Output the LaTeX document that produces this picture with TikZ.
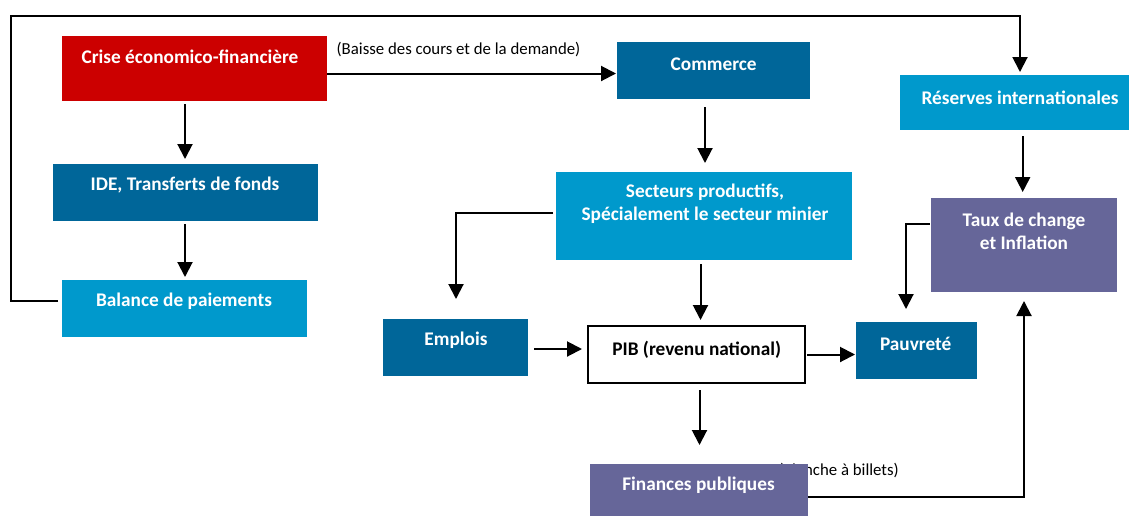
\documentclass[tikz,border=0pt]{standalone}
\usepackage{fontspec}
\setmainfont{Carlito}
\usetikzlibrary{arrows.meta,calc}
\definecolor{cred}{HTML}{CC0000}
\definecolor{cdark}{HTML}{006699}
\definecolor{clight}{HTML}{0099CC}
\definecolor{cpurp}{HTML}{666699}
\tikzset{
  box/.style={rectangle, draw=none, inner sep=0pt, outer sep=0pt},
  btext/.style={font=\fontsize{19.3}{23}\selectfont\bfseries, text=white, align=center, inner sep=0pt},
  lbl/.style={font=\fontsize{16.8}{19}\selectfont, inner sep=0pt},
  arr/.style={line width=2pt, -{Triangle[length=15pt,width=15pt]}, shorten <=3pt, shorten >=5pt},
  plain/.style={line width=2pt}
}
\begin{document}
\begin{tikzpicture}[x=1pt,y=-1pt]
\useasboundingbox (0,0) rectangle (1129,515);
% label partly hidden by the Finances box
\node[lbl, anchor=east] (planche) at (899,470.7) {(Planche à billets)};
% boxes
\node[box, fill=cred,   minimum width=265pt, minimum height=65pt] (crise) at (194.5,68.5) {};
\node[box, fill=cdark,  minimum width=265pt, minimum height=57pt] (ide)   at (185.5,192.5) {};
\node[box, fill=clight, minimum width=245pt, minimum height=57pt] (bal)   at (184.5,308.5) {};
\node[box, fill=cdark,  minimum width=193pt, minimum height=57pt] (com)   at (713.5,70.5) {};
\node[box, fill=clight, minimum width=240pt, minimum height=55pt] (res)   at (1020,102.5) {};
\node[box, fill=clight, minimum width=296pt, minimum height=88pt] (sec)   at (704,216) {};
\node[box, fill=cpurp,  minimum width=186pt, minimum height=94pt] (taux)  at (1024,245) {};
\node[box, fill=cdark,  minimum width=145pt, minimum height=57pt] (emp)   at (455.5,347.5) {};
\node[box, draw=black, line width=1.5pt, fill=white, minimum width=217pt, minimum height=57pt] (pib) at (696.5,354.5) {};
\node[box, fill=cdark,  minimum width=121pt, minimum height=57pt] (pau)   at (916.5,350.5) {};
\node[box, fill=cpurp,  minimum width=218pt, minimum height=66pt] (fin)   at (699,497) {};
% texts
\node[btext] (crise-t) at (190,57) {Crise économico-financière};
\node[btext] (ide-t) at (185,185) {IDE, Transferts de fonds};
\node[btext] (bal-t) at (184,301.5) {Balance de paiements};
\node[btext] (com-t) at (713.7,64) {Commerce};
\node[btext] (res-t) at (1020,97.7) {Réserves internationales};
\node[btext] (sec-t) at (705,204) {Secteurs productifs,\\Spécialement le secteur minier};
\node[btext] (taux-t) at (1024,231) {Taux de change\\et Inflation};
\node[btext] (emp-t) at (456,340.7) {Emplois};
\node[btext, text=black] (pib-t) at (696.7,350) {PIB (revenu national)};
\node[btext] (pau-t) at (915.7,344) {Pauvreté};
\node[btext] (fin-t) at (698.5,485.7) {Finances publiques};
\node[lbl] (baisse) at (458.5,50) {(Baisse des cours et de la demande)};
% connectors
\coordinate (topleft) at (11,16);
\draw[arr] (ide-t |- crise.south) -- (ide-t |- ide.north);
\draw[arr, shorten >=3pt] (ide-t |- ide.south) -- (ide-t |- bal.north);
\draw[arr, shorten <=4pt, shorten >=3pt] ([yshift=7.5pt]bal.west) -| (topleft) -| (res.north);
\draw[arr, shorten <=0pt, shorten >=1pt] ([yshift=-5pt]crise.east) -- ([yshift=-5pt]crise.east -| com.west);
\draw[arr, shorten <=8pt, shorten >=9pt] (sec-t |- com.south) -- (sec-t |- sec.north);
\draw[arr, shorten <=3pt, shorten >=20pt] ([yshift=3pt]sec.west) -| (emp-t |- emp.north);
\draw[arr, shorten <=4pt, shorten >=6pt] ([xshift=4pt]pib.north |- sec.south) -- ([xshift=4pt]pib.north);
\draw[arr, shorten <=6pt, shorten >=6pt] ([yshift=-1.5pt]emp.east) -- ([yshift=-1.5pt]emp.east -| pib.west);
\draw[arr, shorten <=2pt, shorten >=1pt] (pib.east) -- (pib.east -| pau.west);
\draw[arr, shorten <=7pt, shorten >=19pt] ([xshift=3pt]pib.south) -- ([xshift=3pt]pib.south |- fin.north);
\draw[arr, shorten <=6pt, shorten >=6pt] ([xshift=2.7pt]res.south) -- ([xshift=2.7pt]res.south |- taux.north);
\draw[arr, shorten <=1.5pt, shorten >=13pt] ([yshift=21pt]taux.west) -| ([xshift=50pt]pau.north west);
\draw[arr, shorten <=0pt, shorten >=9pt] (fin.east) -| (taux.south);
\end{tikzpicture}
\end{document}
